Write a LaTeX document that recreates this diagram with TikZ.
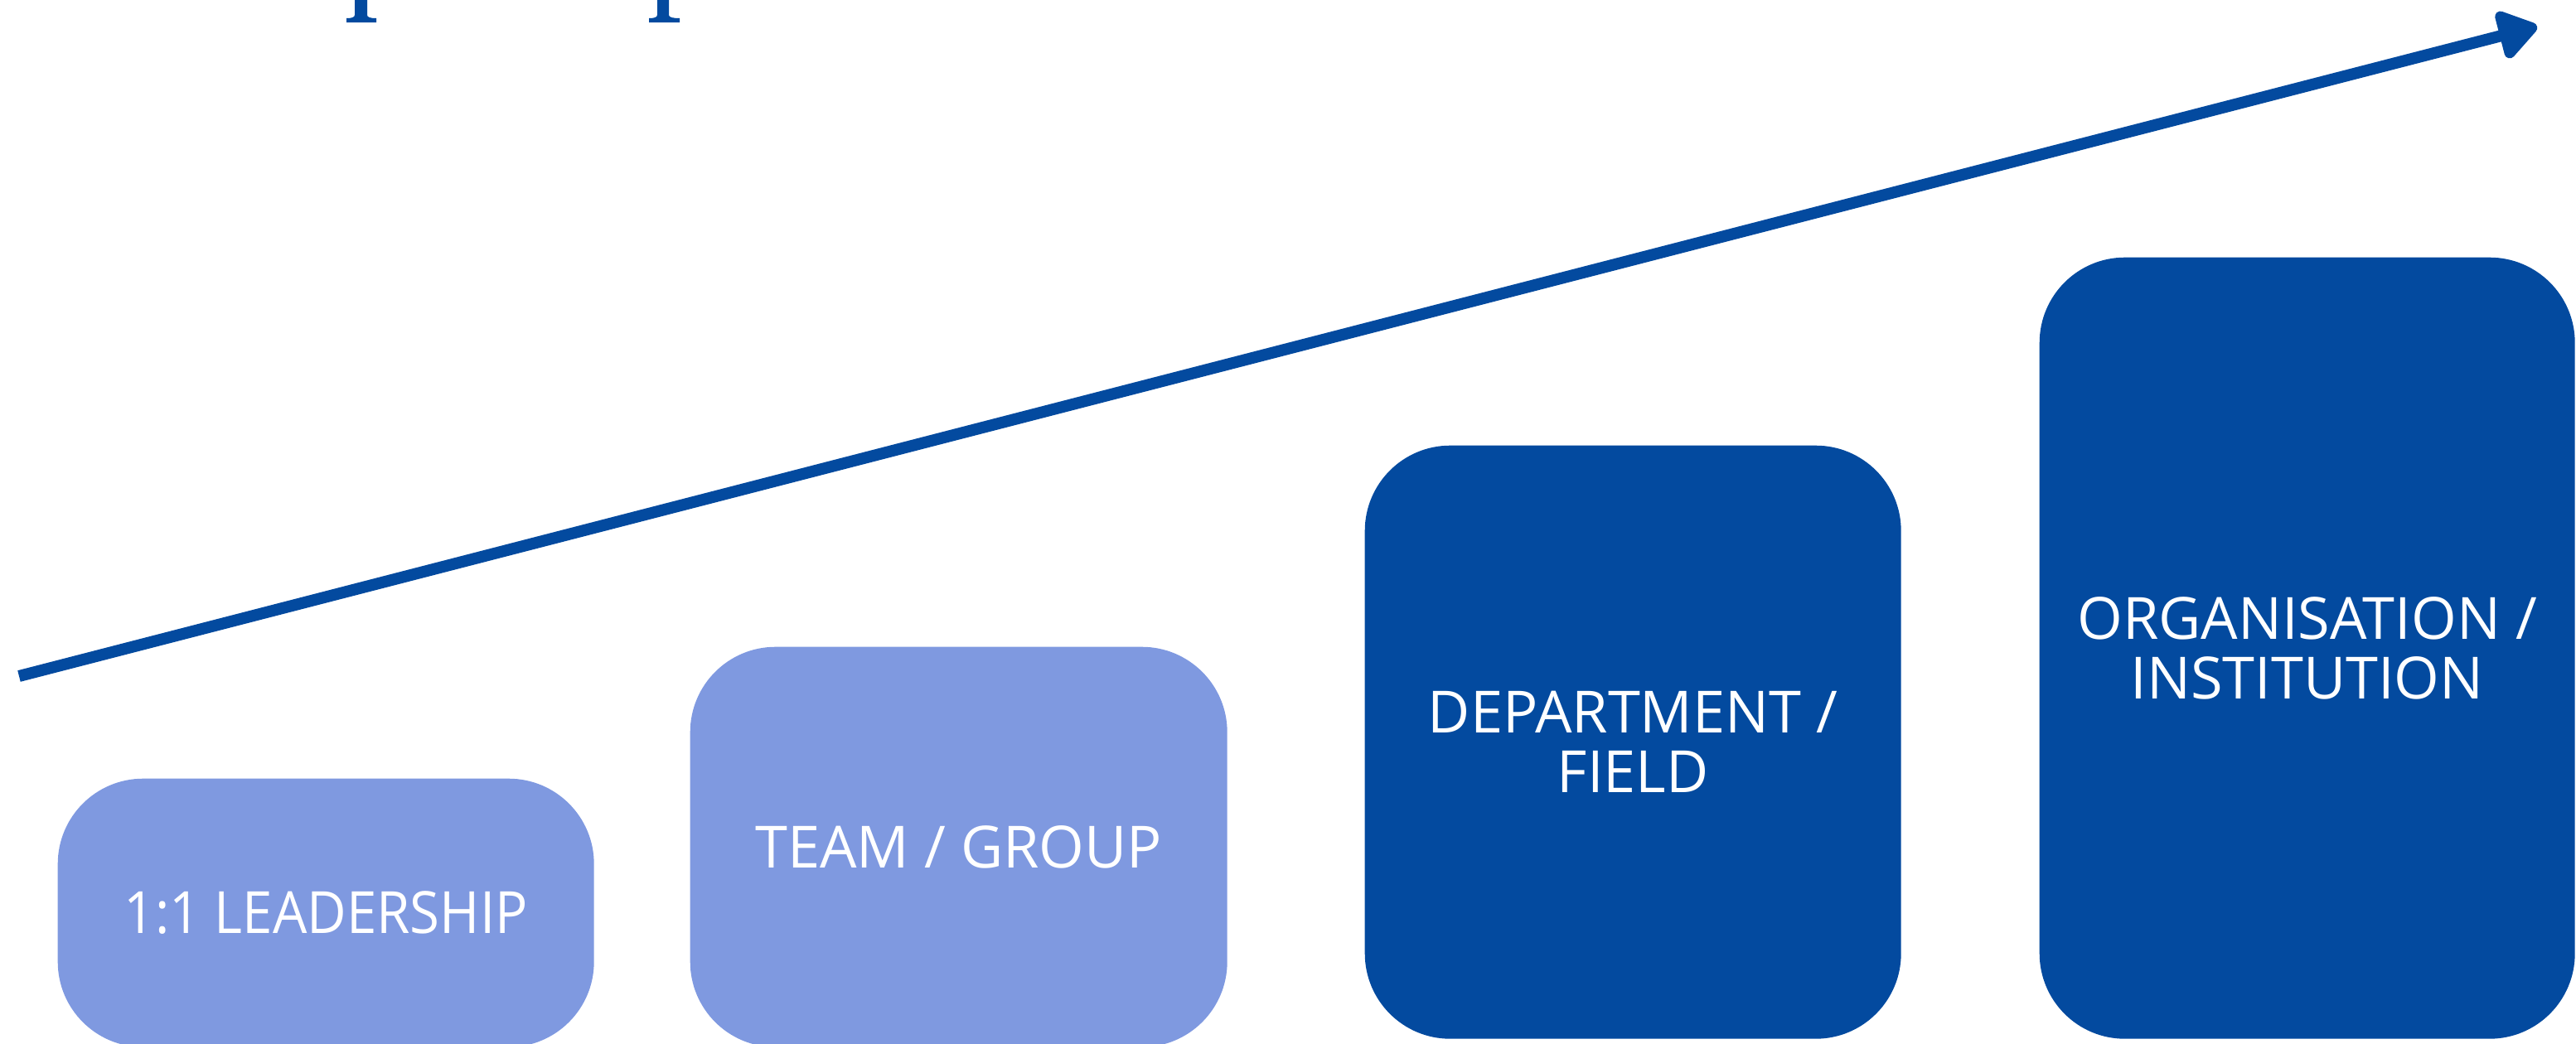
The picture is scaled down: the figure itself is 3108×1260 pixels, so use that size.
\documentclass[tikz,border=0pt]{standalone}
\usepackage{graphicx}
\usepackage{fontspec}
\setmainfont{Open Sans}
\usetikzlibrary{arrows.meta}

\definecolor{levellight}{HTML}{7F99E0}
\definecolor{leveldark}{HTML}{034A9F}

\begin{document}
\begin{tikzpicture}[
    x=0.1mm, y=-0.1mm,
    level/.style={rectangle, rounded corners=10.3mm, text=white, align=center, anchor=north west,
        inner sep=0pt, font=\fontsize{20}{20.5}\selectfont},
    lightbox/.style={level, fill=levellight},
    darkbox/.style={level, fill=leveldark},
    growth/.style={-{Triangle[length=5.2mm, width=6.6mm, round]}, line width=1.4mm, draw=leveldark}
]
    \useasboundingbox (0,0) rectangle (3108,1260);

    % Bits of lettering cut by the top edge
    \fill[leveldark] (428,0) -- (428,18) .. controls (428,21) and (424,22) .. (418,22) -- (418,27)
        -- (454,27) -- (454,22) .. controls (447,22) and (443,21) .. (443,18) -- (443,0) -- cycle;
    \fill[leveldark] (793,0) -- (793,18) .. controls (793,21) and (789,22) .. (783,22) -- (783,27)
        -- (820,27) -- (820,22) .. controls (812,22) and (807,21) .. (807,18) -- (807,0) -- cycle;

    % Levels
    \node[lightbox, minimum width=64.7mm, minimum height=32.4mm] (oneone) at (69,939) {\scalebox{0.93}[1]{1:1 LEADERSHIP}};
    \node[lightbox, minimum width=64.8mm, minimum height=48.3mm] (team) at (832,780) {TEAM / GROUP};
    \node[darkbox, minimum width=64.7mm, minimum height=71.6mm] (dept) at (1646,537) {DEPARTMENT /\\FIELD};
    \node[darkbox, minimum width=64.6mm, minimum height=94.3mm] (org) at (2460,310) {ORGANISATION /\\INSTITUTION};

    % Growth arrow
    \coordinate (start) at (23,816);
    \coordinate (tip) at (3061,32);
    \draw[growth] (start) -- (tip);

\end{tikzpicture}
\end{document}
